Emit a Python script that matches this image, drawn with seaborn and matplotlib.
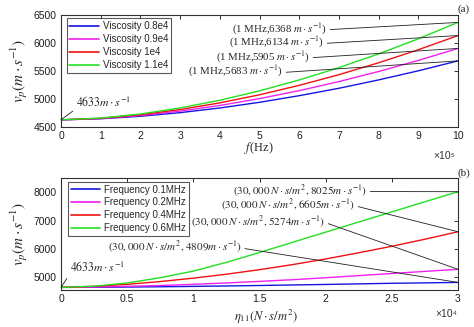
import numpy as np
import pandas as pd
import matplotlib
matplotlib.use("Agg")
import matplotlib.pyplot as plt
import seaborn as sns
from matplotlib.ticker import FuncFormatter

# ---------------- data ----------------
freq_mhz = [0.0, 0.1, 0.2, 0.3, 0.4, 0.5, 0.6, 0.7, 0.8, 0.9, 1.0]
visc_labels = ["Viscosity 0.8e4", "Viscosity 0.9e4", "Viscosity 1e4", "Viscosity 1.1e4"]
v_visc_08 = [4633, 4652, 4696, 4761, 4844, 4945, 5063, 5195, 5344, 5506, 5683]
v_visc_09 = [4633, 4656, 4709, 4788, 4889, 5011, 5153, 5314, 5494, 5691, 5905]
v_visc_10 = [4633, 4660, 4723, 4816, 4935, 5079, 5247, 5437, 5649, 5881, 6134]
v_visc_11 = [4633, 4664, 4737, 4844, 4982, 5149, 5343, 5562, 5807, 6076, 6368]

eta_k = [0, 2.5, 5, 7.5, 10, 12.5, 15, 17.5, 20, 22.5, 25, 27.5, 30]
freq_labels = ["Frequency 0.1MHz", "Frequency 0.2MHz", "Frequency 0.4MHz", "Frequency 0.6MHz"]
v_f01 = [4633, 4636, 4645, 4655, 4668, 4683, 4700, 4718, 4737, 4757, 4778, 4793, 4809]
v_f02 = [4633, 4645, 4670, 4700, 4740, 4790, 4845, 4905, 4975, 5050, 5125, 5200, 5274]
v_f04 = [4633, 4670, 4740, 4840, 4960, 5100, 5260, 5440, 5640, 5860, 6090, 6340, 6605]
v_f06 = [4633, 4675, 4790, 4975, 5210, 5520, 5870, 6230, 6590, 6950, 7310, 7668, 8025]

top_ann = ["6368", "6134", "5905", "5683"]
bot_ann = ["8025", "6605", "5274", "4809"]
colors = ["#1515e0", "#f020f0", "#f01010", "#22e022"]

# ---------------- frames ----------------
rows = []
for lab, vals in zip(visc_labels, [v_visc_08, v_visc_09, v_visc_10, v_visc_11]):
    for f, v in zip(freq_mhz, vals):
        rows.append({"f": f * 1e6, "v": v, "series": lab})
df_top = pd.DataFrame(rows)
rows = []
for lab, vals in zip(freq_labels, [v_f01, v_f02, v_f04, v_f06]):
    for e, v in zip(eta_k, vals):
        rows.append({"eta": e * 1e3, "v": v, "series": lab})
df_bot = pd.DataFrame(rows)

# ---------------- style ----------------
sns.set_theme(style="white")
plt.rcParams["font.family"] = ["Liberation Sans", "DejaVu Sans"]
plt.rcParams["font.serif"] = ["Liberation Serif"]
plt.rcParams["mathtext.fontset"] = "stix"
plt.rcParams["axes.edgecolor"] = "#303030"
plt.rcParams["axes.linewidth"] = 0.8

fig = plt.figure(figsize=(4.74, 3.27), dpi=100)
W, H = 474, 327
def axrect(l, t, r, b):
    return [l / W, 1 - b / H, (r - l) / W, (b - t) / H]

ax1 = fig.add_axes(axrect(61, 15, 458, 127.3))
ax2 = fig.add_axes(axrect(61, 178.3, 458, 290))

sns.lineplot(data=df_top, x="f", y="v", hue="series", palette=colors, ax=ax1, lw=1.0)
sns.lineplot(data=df_bot, x="eta", y="v", hue="series", palette=colors, ax=ax2, lw=1.0)

ax1.set_xlim(0, 1e6)
ax1.set_ylim(4500, 6500)
ax1.set_xticks(np.arange(0, 1.01e6, 1e5))
ax1.set_yticks([4500, 5000, 5500, 6000, 6500])
ax1.xaxis.set_major_formatter(FuncFormatter(lambda x, p: f"{x/1e5:g}"))

ax2.set_xlim(0, 3e4)
ax2.set_ylim(4540, 8500)
ax2.set_xticks(np.arange(0, 3.01e4, 5e3))
ax2.set_yticks([5000, 6000, 7000, 8000])
ax2.xaxis.set_major_formatter(FuncFormatter(lambda x, p: f"{x/1e4:g}"))

for ax in (ax1, ax2):
    ax.tick_params(direction="in", top=True, right=True, length=3, width=0.7,
                   labelsize=7.5, pad=3, colors="#303030", labelcolor="#202020")
    for s in ax.spines.values():
        s.set_visible(True)
    ax.set_xlabel("")
    ax.set_ylabel("")

serif = ["Liberation Serif", "DejaVu Serif"]
ax1.set_ylabel(r"$v_p\left(m\cdot s^{-1}\right)$", fontsize=11, labelpad=3)
ax2.set_ylabel(r"$v_p\left(m\cdot s^{-1}\right)$", fontsize=11, labelpad=3)
fig.text(259 / W, 1 - 148 / H, r"$f$(Hz)", family=serif, fontsize=9, ha="center", va="center")
fig.text(266 / W, 1 - 317 / H, r"$\eta_{11}(N\cdot s/m^2)$", fontsize=9, ha="center", va="center")
fig.text(444 / W, 1 - 156 / H, "×10⁵", fontsize=7.5, ha="center", va="center", color="#303030")
fig.text(446 / W, 1 - 314 / H, "×10⁴", fontsize=7.5, ha="center", va="center", color="#303030")
fig.text(464 / W, 1 - 9 / H, "(a)", family=serif, fontsize=8, ha="center", va="center")
fig.text(464 / W, 1 - 173 / H, "(b)", family=serif, fontsize=8, ha="center", va="center")

leg_kw = dict(loc="upper left", borderaxespad=0, fontsize=7, frameon=True, fancybox=False,
              edgecolor="#303030", handlelength=3.0, handletextpad=0.4, labelspacing=0.3,
              borderpad=0.3, title=None)
l1 = ax1.legend(bbox_to_anchor=(0.014, 0.971), **leg_kw)
l2 = ax2.legend(bbox_to_anchor=(0.018, 0.970), **leg_kw)
for l in (l1, l2):
    l.get_frame().set_linewidth(0.8)
    for ln in l.get_lines():
        ln.set_linewidth(1.2)

ap = dict(arrowstyle="-", color="#202020", lw=0.6, shrinkA=0, shrinkB=0)

# top annotations
top_text_pos = [(670000, 6251), (662500, 6007), (627200, 5752), (559200, 5490)]
top_ends = [v_visc_11[-1], v_visc_10[-1], v_visc_09[-1], v_visc_08[-1]]
for lab, (tx, ty), ye in zip(top_ann, top_text_pos, top_ends):
    ax1.annotate("(1 MHz," + lab + r" $m\cdot s^{-1}$)", xy=(1e6, ye), xytext=(tx, ty),
                 ha="right", va="center", family=serif, fontsize=7.8,
                 arrowprops=dict(ap, relpos=(1, 0.45)))
ax1.annotate(r"$\mathit{4633m\cdot s^{-1}}$", xy=(0, 4633), xytext=(37800, 4933),
             ha="left", va="center", fontsize=8.5,
             arrowprops=dict(ap, relpos=(0, 0.1)))

# bottom annotations
bot_text_pos = [(23123, 8060), (22216, 7553), (19950, 6961), (13655, 6054)]
bot_ends = [v_f06[-1], v_f04[-1], v_f02[-1], v_f01[-1]]
for lab, (tx, ty), ye in zip(bot_ann, bot_text_pos, bot_ends):
    ax2.annotate(r"$(30,000\,N\cdot s/m^2\,," + lab + r"m\cdot s^{-1})$", xy=(3e4, ye),
                 xytext=(tx, ty), ha="right", va="center", fontsize=8,
                 arrowprops=dict(ap, relpos=(1, 0.45)))
ax2.annotate(r"$\mathit{4633m\cdot s^{-1}}$", xy=(0, 4633), xytext=(680, 5320),
             ha="left", va="center", fontsize=8.5,
             arrowprops=dict(ap, relpos=(0, 0.1)))

fig.savefig("out.png", dpi=100)
